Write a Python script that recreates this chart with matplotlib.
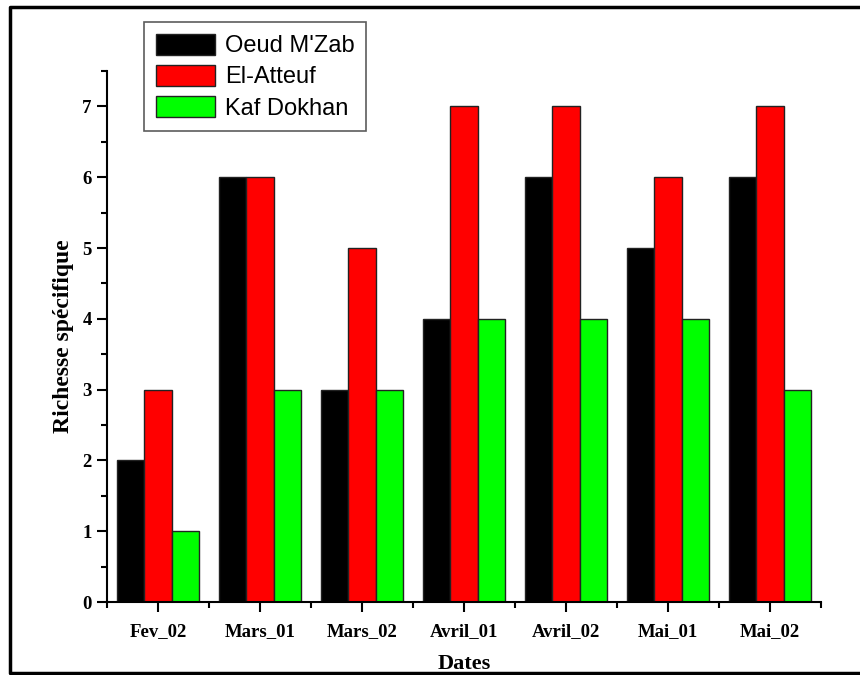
import numpy as np
import matplotlib
matplotlib.use("Agg")
import matplotlib.pyplot as plt
from matplotlib.lines import Line2D
from matplotlib.ticker import MultipleLocator

dates = ["Fev_02", "Mars_01", "Mars_02", "Avril_01", "Avril_02", "Mai_01", "Mai_02"]
oeud_mzab = [2, 6, 3, 4, 6, 5, 6]
el_atteuf = [3, 6, 5, 7, 7, 6, 7]
kaf_dokhan = [1, 3, 3, 4, 4, 4, 3]
series = [("Oeud M'Zab", oeud_mzab, "#000000"),
          ("El-Atteuf", el_atteuf, "#ff0000"),
          ("Kaf Dokhan", kaf_dokhan, "#00ff00")]

fig = plt.figure(figsize=(8.6, 6.75), dpi=100)
ax = fig.add_axes([0.1244, 0.1081, 0.9547 - 0.1244, 0.8948 - 0.1081])

x = np.arange(len(dates))
w = 0.27
for i, (name, vals, col) in enumerate(series):
    ax.bar(x + (i - 1) * w, vals, width=w, color=col, edgecolor="#222222",
           linewidth=1.0, label=name)

ax.set_xlim(-0.5, len(dates) - 0.5)
ax.set_ylim(0, 7.5)
ax.set_xticks(x)
ax.set_xticklabels(dates)
ax.xaxis.set_minor_locator(MultipleLocator(1, offset=0.5))
ax.yaxis.set_major_locator(MultipleLocator(1))
ax.yaxis.set_minor_locator(MultipleLocator(0.5))

for s in ["top", "right"]:
    ax.spines[s].set_visible(False)
for s in ["left", "bottom"]:
    ax.spines[s].set_linewidth(1.5)

serif = {"family": "Liberation Serif", "weight": "bold"}
ax.tick_params(which="major", direction="out", length=7, width=1.5)
ax.tick_params(which="minor", direction="out", length=4, width=1.5)
ax.tick_params(axis="x", which="major", pad=8)
ax.tick_params(axis="y", which="major", pad=4)
for lab in ax.get_xticklabels() + ax.get_yticklabels():
    lab.set_fontfamily("Liberation Serif")
    lab.set_fontweight("bold")
    lab.set_fontsize(13.5)

ax.set_ylabel("Richesse spécifique", fontdict=serif, fontsize=17, labelpad=6)
ax.set_xlabel("Dates", fontdict=serif, fontsize=16, labelpad=10)

leg = ax.legend(loc="upper left", bbox_to_anchor=(0.036, 1.115),
                prop={"family": "Liberation Sans", "size": 17},
                frameon=True, fancybox=False, handlelength=2.5, handleheight=1.0,
                handletextpad=0.4, labelspacing=0.32, borderpad=0.5)
leg.get_frame().set_edgecolor("#333333")
leg.get_frame().set_linewidth(1.2)

# outer frame around the figure
fx = [1.02, 0.012, 0.012, 1.02]
fy = [0.990, 0.990, 0.003, 0.003]
fig.add_artist(Line2D(fx, fy, color="black", linewidth=2.5,
                      transform=fig.transFigure, zorder=10))

fig.savefig("out.png", dpi=100)
